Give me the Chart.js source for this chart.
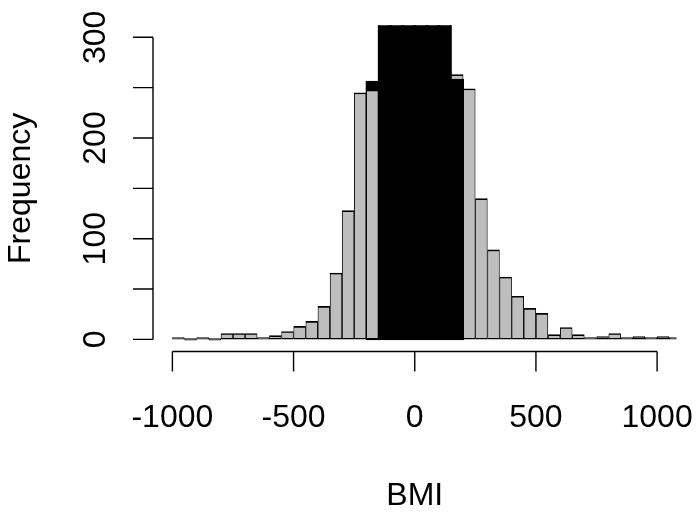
<!DOCTYPE html>
<html>
<head>
<meta charset="utf-8">
<script src="https://cdn.jsdelivr.net/npm/chart.js@4/dist/chart.umd.min.js"></script>
<style>
html,body{margin:0;padding:0;background:#ffffff;overflow:hidden}
#wrap{width:699px;height:514px;position:relative}
</style>
</head>
<body>
<div id="wrap"><canvas id="c" width="699" height="514"></canvas></div>
<script>
// ---- data ----
const binWidth = 50;
const binStarts = [-1000, -950, -900, -850, -800, -750, -700, -650, -600, -550,
                   -500, -450, -400, -350, -300, -250, -200, -150, -100, -50,
                   0, 50, 100, 150, 200, 250, 300, 350, 400, 450,
                   500, 550, 600, 650, 700, 750, 800, 850, 900, 950,
                   1000, 1050];
// grey histogram counts
const greyCounts = [2, 0, 2, 0, 6, 6, 6, 2, 4, 8,
                    13, 18, 33, 66, 128, 245, 248, null, null, null,
                    null, null, null, 263, 249, 140, 89, 62, 43, 31,
                    26, 5, 12, 5, 1, 3, 6, 1, 3, 1,
                    3, 1];
// black histogram counts (centre bins run past the top of the plot)
const blackCounts = [null, null, null, null, null, null, null, null, null, null,
                     null, null, null, null, null, null, 256, 330, 350, 365,
                     360, 345, 325, 258, null, null, null, null, null, null,
                     null, null, null, null, null, null, null, null, null, null,
                     null, null];
const xTicks = [-1000, -500, 0, 500, 1000];
const yTicks = [0, 50, 100, 150, 200, 250, 300];
const yTickLabels = [0, 100, 200, 300];
const xTitle = 'BMI';
const yTitle = 'Frequency';

// ---- build layers: the shorter bar of each bin is drawn in front ----
const GREY = '#bebebe', BLACK = '#000000';
const backData = [], backColors = [], frontData = [], frontColors = [];
binStarts.forEach((s, i) => {
  const cx = s + binWidth / 2;
  const g = greyCounts[i], b = blackCounts[i];
  if (g != null && b != null) {
    const greyTaller = g >= b;
    backData.push({x: cx, y: greyTaller ? g : b});
    backColors.push(greyTaller ? GREY : BLACK);
    frontData.push({x: cx, y: greyTaller ? b : g});
    frontColors.push(greyTaller ? BLACK : GREY);
  } else if (g != null) {
    backData.push({x: cx, y: g}); backColors.push(GREY);
  } else if (b != null) {
    backData.push({x: cx, y: b}); backColors.push(BLACK);
  }
});

const barStyle = {
  borderColor: BLACK,
  borderWidth: {top: 1.7, left: 0.9, right: 0.9, bottom: 1.6},
  borderSkipped: false,
  barPercentage: 1,
  categoryPercentage: 1,
  grouped: false,
  minBarLength: 2,
  clip: 0,
  inflateAmount: (c) => (c.dataset.backgroundColor[c.dataIndex] === BLACK ? 0.8 : 0.2)
};

const FONT = '32px "Liberation Sans", Arial, sans-serif';

const rAxes = {
  id: 'rAxes',
  afterDraw(chart) {
    const {ctx, chartArea} = chart;
    const x = chart.scales.x, y = chart.scales.y;
    ctx.save();
    ctx.strokeStyle = '#000';
    ctx.fillStyle = '#000';
    ctx.lineWidth = 1.4;
    ctx.font = FONT;
    // x axis
    const yb = chartArea.bottom;
    ctx.beginPath();
    ctx.moveTo(x.getPixelForValue(xTicks[0]), yb);
    ctx.lineTo(x.getPixelForValue(xTicks[xTicks.length - 1]), yb);
    xTicks.forEach(v => {
      const px = x.getPixelForValue(v);
      ctx.moveTo(px, yb);
      ctx.lineTo(px, yb + 20);
    });
    // y axis
    const xl = chartArea.left;
    ctx.moveTo(xl, y.getPixelForValue(yTicks[0]));
    ctx.lineTo(xl, y.getPixelForValue(yTicks[yTicks.length - 1]));
    yTicks.forEach(v => {
      const py = y.getPixelForValue(v);
      ctx.moveTo(xl, py);
      ctx.lineTo(xl - 20, py);
    });
    ctx.stroke();
    // x tick labels
    ctx.textAlign = 'center';
    ctx.textBaseline = 'alphabetic';
    xTicks.forEach(v => ctx.fillText(String(v), x.getPixelForValue(v), yb + 75));
    // y tick labels (rotated)
    yTickLabels.forEach(v => {
      ctx.save();
      ctx.translate(xl - 48, y.getPixelForValue(v));
      ctx.rotate(-Math.PI / 2);
      ctx.fillText(String(v), 0, 0);
      ctx.restore();
    });
    // titles
    ctx.fillText(xTitle, (chartArea.left + chartArea.right) / 2, yb + 153);
    ctx.save();
    ctx.translate(30, (chartArea.top + chartArea.bottom) / 2);
    ctx.rotate(-Math.PI / 2);
    ctx.fillText(yTitle, 0, 0);
    ctx.restore();
    ctx.restore();
  }
};

new Chart(document.getElementById('c'), {
  type: 'bar',
  data: {
    datasets: [
      Object.assign({label: 'front', data: frontData, backgroundColor: frontColors, order: 0}, barStyle),
      Object.assign({label: 'back', data: backData, backgroundColor: backColors, order: 1}, barStyle)
    ]
  },
  options: {
    responsive: false,
    animation: false,
    devicePixelRatio: 1,
    layout: {padding: {left: 153, right: 22.5, top: 25.2, bottom: 162.5}},
    plugins: {legend: {display: false}, tooltip: {enabled: false}, title: {display: false}},
    scales: {
      x: {type: 'linear', min: -1080, max: 1080, display: false, offset: false},
      y: {type: 'linear', min: -12, max: 312, display: false}
    }
  },
  plugins: [rAxes]
});
</script>
</body>
</html>
